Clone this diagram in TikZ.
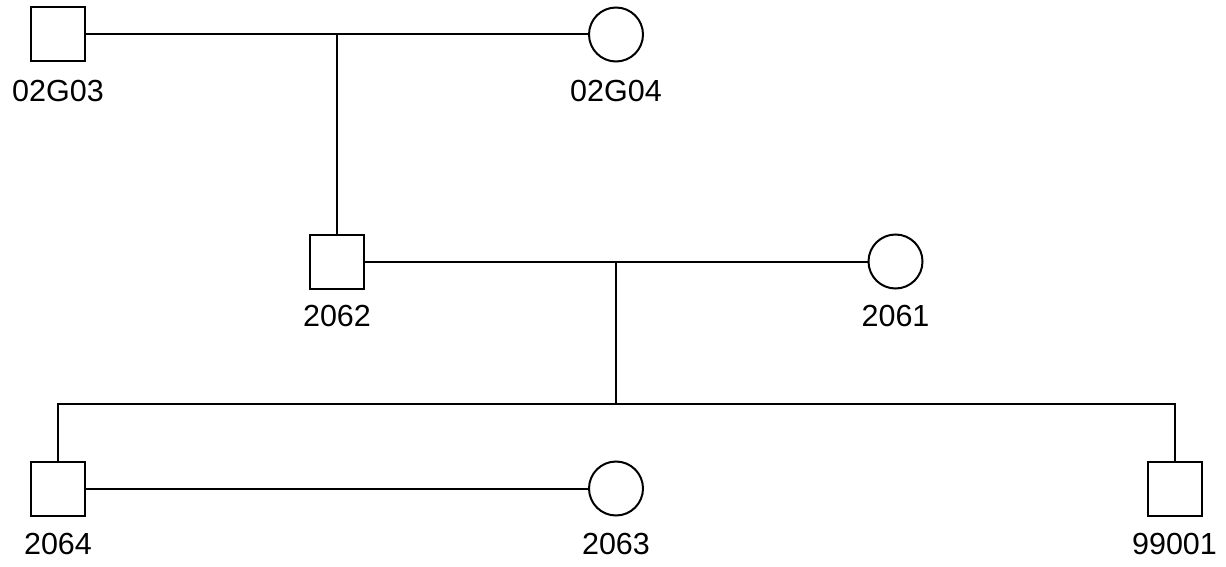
\documentclass[tikz,border=0pt]{standalone}
\usepackage{fontspec}
\setmainfont{Liberation Sans}
\begin{document}
\begin{tikzpicture}[x=1pt,y=-1pt,
  male/.style={draw,line width=2pt,minimum size=54pt,inner sep=0pt,rectangle,fill=white},
  female/.style={draw,line width=2pt,minimum size=54pt,inner sep=0pt,circle,fill=white},
  lbl/.style={font=\fontsize{30.5}{36}\selectfont,inner sep=0pt,anchor=center},
  con/.style={line width=2pt}]
\useasboundingbox (0,0) rectangle (1226,567);
% nodes
\node[male] (g03) at (58,34.5) {};
\node[female] (g04) at (616,34.5) {};
\node[male] (p2062) at (337,261.5) {};
\node[female] (p2061) at (895.5,261.5) {};
\node[male] (p2064) at (58,488.5) {};
\node[female] (p2063) at (616,488.5) {};
\node[male] (p99001) at (1174.5,488.5) {};
% labels
\node[lbl] (l1) at (58,91) {02G03};
\node[lbl] (l2) at (616,91) {02G04};
\node[lbl] (l3) at (337,316) {2062};
\node[lbl] (l4) at (895.5,316) {2061};
\node[lbl] (l5) at (58,544) {2064};
\node[lbl] (l6) at (616,544) {2063};
\node[lbl] (l7) at (1174.5,544) {99001};
% connectors
\coordinate (m1) at (337,34.5);
\coordinate (m2) at (616,261.5);
\coordinate (s2) at (616,404);
\coordinate (sl) at (58,404);
\coordinate (sr) at (1174.5,404);
\draw[con] (g03.east) -- (g04.west);
\draw[con] (m1) -- (p2062.north);
\draw[con] (p2062.east) -- (p2061.west);
\draw[con] (m2) -- (s2);
\draw[con] (p2064.north) -- (sl) -- (sr) -- (p99001.north);
\draw[con] (p2064.east) -- (p2063.west);
\end{tikzpicture}
\end{document}
